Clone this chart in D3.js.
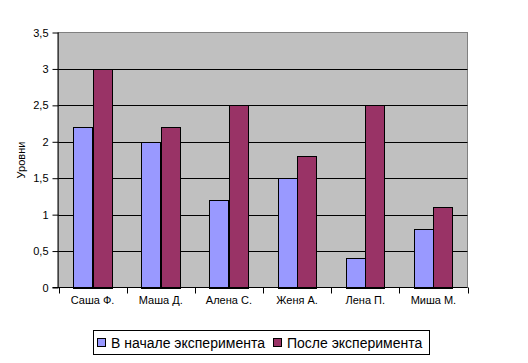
<!DOCTYPE html>
<html><head><meta charset="utf-8">
<script src="https://cdn.jsdelivr.net/npm/d3@7"></script>
<style>body{margin:0;background:#fff}svg{display:block}text{font-family:"Liberation Sans",Arial,sans-serif}</style>
</head><body><svg id="c" width="528" height="363"></svg>
<script>
const categories = ["Саша Ф.", "Маша Д.", "Алена С.", "Женя А.", "Лена П.", "Миша М."];
const seriesNames = ["В начале эксперимента", "После эксперимента"];
const before = [2.2, 2, 1.2, 1.5, 0.4, 0.8];
const after = [3, 2.2, 2.5, 1.8, 2.5, 1.1];
const yTicks = [0, 0.5, 1, 1.5, 2, 2.5, 3, 3.5];
const colors = ["#9999ff", "#993366"];

const svg = d3.select("#c");
const L = 58.5, R = 467.5, T = 32.5, B = 287.5;
const x = d3.scaleBand().domain(categories).range([L, R]).paddingInner(0).paddingOuter(0);
const y = d3.scaleLinear().domain([0, 3.5]).range([B, T]);
const fmt = d => String(d).replace(".", ",");

svg.append("rect").attr("x", L).attr("y", T).attr("width", R - L).attr("height", B - T)
  .attr("fill", "#c0c0c0").attr("stroke", "#808080");

// gridlines
svg.append("g").selectAll("line").data(yTicks.filter(d => d > 0 && d < 3.5)).join("line")
  .attr("x1", L).attr("x2", R).attr("y1", d => Math.round(y(d)) + 0.5).attr("y2", d => Math.round(y(d)) + 0.5)
  .attr("stroke", "#000");

// bars
const bw = x.bandwidth() / 3.5;
const series = [before, after];
series.forEach((vals, si) => {
  svg.append("g").selectAll("rect").data(categories).join("rect")
    .attr("x", (c) => Math.round(x(c) + bw * 0.75 + si * bw) + 0.5)
    .attr("width", Math.round(bw))
    .attr("y", (c, i) => Math.round(y(vals[i])) + 0.5)
    .attr("height", (c, i) => Math.round(B) - Math.round(y(vals[i])))
    .attr("fill", colors[si]).attr("stroke", "#000");
});

// y axis
const yAxis = d3.axisLeft(y).tickValues(yTicks).tickSize(6).tickPadding(4).tickFormat(fmt);
const gy = svg.append("g").attr("transform", `translate(${L},0)`).call(yAxis);
gy.select(".domain").attr("stroke", "#000").attr("d", `M-0.5,${T}V${B}`);
gy.selectAll("line").attr("stroke", "#000");
gy.selectAll("text").attr("font-size", 11).attr("fill", "#000").attr("font-family", '"Liberation Sans",Arial,sans-serif');

// x axis
svg.append("line").attr("x1", L - 6).attr("x2", R).attr("y1", B).attr("y2", B).attr("stroke", "#000");
const xt = categories.map(c => x(c)).concat([R]);
svg.append("g").selectAll("line").data(xt).join("line")
  .attr("x1", d => Math.round(d) + 0.5).attr("x2", d => Math.round(d) + 0.5)
  .attr("y1", B).attr("y2", B + 6).attr("stroke", "#000");
svg.append("g").selectAll("text").data(categories).join("text")
  .attr("x", c => x(c) + x.bandwidth() / 2).attr("y", 304)
  .attr("text-anchor", "middle").attr("font-size", 11).text(c => c);

// y label
svg.append("text").attr("transform", "translate(25,160) rotate(-90)")
  .attr("text-anchor", "middle").attr("font-size", 11).text("Уровни");

// legend
const lg = svg.append("g");
lg.append("rect").attr("x", 93.5).attr("y", 330.5).attr("width", 336).attr("height", 24)
  .attr("fill", "#fff").attr("stroke", "#000");
const items = [{x: 97, tx: 111}, {x: 273, tx: 287}];
items.forEach((it, i) => {
  lg.append("rect").attr("x", it.x + 0.5).attr("y", 338.5).attr("width", 8).attr("height", 8)
    .attr("fill", colors[i]).attr("stroke", "#000");
  lg.append("text").attr("x", it.tx).attr("y", 347.5).attr("font-size", 14).text(seriesNames[i]);
});
</script></body></html>
